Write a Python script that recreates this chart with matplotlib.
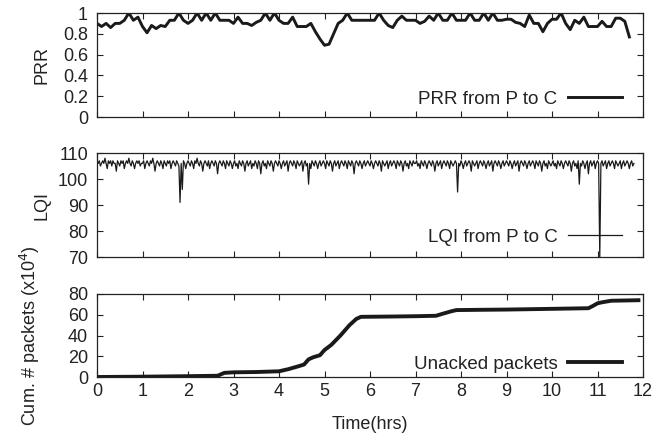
import matplotlib
matplotlib.use("Agg")
import matplotlib.pyplot as plt
import numpy as np

plt.rcParams['font.family'] = ['Liberation Sans', 'DejaVu Sans']

# ---------------- data ----------------
prr_step = 0.1
prr_values = [
    0.90, 0.87, 0.90, 0.86, 0.90, 0.90, 0.93, 1.00, 0.93, 0.96,
    0.87, 0.81, 0.88, 0.85, 0.88, 0.87, 0.93, 0.93, 1.00, 0.93,
    0.90, 0.93, 1.00, 0.93, 1.00, 0.93, 1.00, 0.93, 0.93, 0.93,
    0.90, 0.96, 0.90, 0.90, 0.88, 0.91, 0.93, 1.00, 0.93, 1.00,
    0.93, 0.90, 0.90, 0.96, 0.87, 0.87, 0.87, 0.90, 0.82, 0.75,
    0.69, 0.70, 0.80, 0.90, 0.93, 1.00, 0.93, 0.93, 0.93, 0.93,
    0.93, 0.93, 1.00, 0.93, 0.88, 0.86, 0.93, 0.97, 0.93, 0.93,
    0.93, 0.90, 0.92, 0.97, 0.93, 1.00, 0.93, 0.93, 1.00, 0.93,
    0.93, 0.93, 1.00, 0.93, 0.93, 1.00, 0.93, 1.00, 0.93, 0.93,
    0.94, 0.94, 0.91, 0.90, 0.87, 0.98, 0.90, 0.90, 0.82, 0.90,
    0.94, 0.94, 1.00, 0.90, 0.84, 0.93, 0.90, 0.96, 0.87, 0.87,
    0.87, 0.92, 0.87, 0.87, 0.95, 0.95, 0.92, 0.77,
]

lqi_step = 0.025
lqi_values = [
    107, 106, 107, 105, 106, 107, 106, 108, 106, 104, 107, 106, 107, 105, 107, 106, 106, 103, 107, 106,
    105, 107, 106, 107, 104, 106, 107, 106, 108, 106, 105, 107, 106, 104, 106, 107, 106, 107, 105, 106,
    106, 107, 104, 106, 107, 106, 105, 107, 106, 108, 106, 103, 106, 107, 106, 105, 107, 106, 104, 107,
    106, 105, 107, 106, 107, 104, 106, 107, 106, 105, 107, 106, 105, 91, 106, 96, 107, 106, 104, 106,
    107, 106, 105, 107, 106, 104, 107, 106, 108, 106, 105, 107, 106, 103, 106, 107, 106, 105, 107, 104,
    106, 107, 106, 105, 107, 106, 102, 106, 107, 106, 105, 107, 106, 104, 107, 106, 105, 107, 106, 104,
    106, 107, 105, 106, 104, 107, 106, 105, 107, 106, 103, 106, 107, 105, 106, 107, 104, 106, 105, 107,
    106, 104, 107, 106, 102, 106, 107, 105, 106, 104, 107, 106, 105, 107, 106, 103, 106, 107, 106, 105,
    107, 106, 104, 106, 107, 105, 106, 107, 103, 106, 107, 106, 105, 107, 106, 104, 107, 106, 105, 106,
    107, 103, 106, 107, 105, 106, 98, 106, 104, 107, 106, 105, 107, 106, 104, 106, 107, 105, 106, 107,
    106, 104, 107, 106, 105, 107, 106, 103, 106, 107, 105, 106, 107, 104, 106, 107, 106, 105, 107, 106,
    104, 107, 106, 105, 107, 106, 102, 106, 107, 106, 105, 107, 106, 104, 106, 107, 105, 106, 107, 106,
    105, 107, 106, 104, 106, 107, 106, 105, 107, 106, 103, 107, 106, 105, 106, 107, 104, 106, 107, 105,
    106, 107, 106, 104, 107, 106, 105, 107, 106, 103, 106, 107, 105, 106, 104, 107, 106, 105, 107, 106,
    106, 107, 105, 106, 104, 107, 106, 105, 107, 106, 104, 106, 107, 106, 105, 107, 106, 103, 106, 107,
    105, 106, 107, 104, 106, 107, 106, 105, 107, 106, 104, 107, 106, 105, 106, 107, 106, 95, 106, 105,
    107, 106, 104, 106, 107, 105, 106, 107, 106, 103, 107, 106, 105, 106, 107, 104, 106, 107, 106, 105,
    107, 106, 104, 106, 107, 105, 106, 107, 103, 106, 107, 106, 105, 107, 106, 104, 106, 107, 105, 106,
    107, 106, 105, 107, 106, 104, 106, 107, 105, 106, 107, 103, 106, 107, 106, 105, 107, 106, 104, 106,
    107, 105, 106, 107, 106, 104, 107, 106, 105, 107, 106, 103, 106, 107, 105, 106, 104, 107, 106, 105,
    106, 107, 105, 106, 104, 107, 106, 105, 107, 106, 104, 106, 107, 106, 105, 107, 106, 103, 106, 107,
    105, 106, 104, 107, 98, 106, 105, 107, 106, 104, 106, 107, 102, 106, 107, 105, 106, 107, 104, 106,
    107, 106, 70, 106, 107, 105, 106, 107, 104, 106, 107, 105, 106, 107, 106, 104, 107, 106, 105, 106,
    107, 104, 106, 107, 105, 106, 107, 106, 104, 106, 107, 105, 106,
]

cum_time = [0, 1, 2, 2.65, 2.8, 3.0, 3.5, 4.0, 4.2, 4.4, 4.55, 4.65, 4.75, 4.9, 5.0,
            5.15, 5.35, 5.55, 5.7, 5.8, 6.5, 7.0, 7.45, 7.6, 7.8, 7.9, 8.5, 9.0,
            10.0, 10.8, 10.9, 11.0, 11.1, 11.3, 11.9]
cum_values = [0, 0.3, 0.8, 1.2, 4.0, 4.5, 4.8, 5.5, 7.5, 10, 12, 17, 19, 21, 26,
              31, 40, 50, 56, 58, 58.3, 58.6, 59, 61, 63.5, 64.5, 64.8, 65,
              65.7, 66.3, 68.5, 71, 72, 73.5, 74]

x_ticks = list(range(0, 13))
prr_ticks = [0, 0.2, 0.4, 0.6, 0.8, 1]
prr_ticklabels = ['0', '0.2', '0.4', '0.6', '0.8', '1']
lqi_ticks = [70, 80, 90, 100, 110]
cum_ticks = [0, 20, 40, 60, 80]

prr_time = np.arange(len(prr_values)) * prr_step
lqi_time = np.arange(len(lqi_values)) * lqi_step

# ---------------- figure ----------------
W, H = 655, 437
fig = plt.figure(figsize=(W / 100, H / 100), dpi=100)

def box(top, bottom, left=97, right=643):
    return [left / W, 1 - bottom / H, (right - left) / W, (bottom - top) / H]

ax1 = fig.add_axes(box(13, 117))
ax2 = fig.add_axes(box(153, 257))
ax3 = fig.add_axes(box(294, 377))

FS = 13
TXT = '#222222'
for ax in (ax1, ax2, ax3):
    ax.set_xlim(0, 12)
    ax.set_xticks(x_ticks)
    ax.tick_params(direction='in', top=True, right=True, length=4, width=0.8,
                   labelsize=FS, colors=TXT)
    ax.tick_params(axis='y', pad=6.5)
    ax.tick_params(axis='x', pad=4)
    for s in ax.spines.values():
        s.set_linewidth(0.9)
        s.set_color(TXT)

ax1.plot(prr_time, prr_values, color='#1a1a1a', lw=2.1, label='PRR from P to C')
ax1.set_ylim(0, 1)
ax1.set_yticks(prr_ticks)
ax1.set_yticklabels(prr_ticklabels)
ax1.set_xticklabels([])
ax1.set_ylabel('PRR', fontsize=FS, color=TXT)

ax2.plot(lqi_time, lqi_values, color='#1a1a1a', lw=0.9, label='LQI from P to C')
ax2.set_ylim(70, 110)
ax2.set_yticks(lqi_ticks)
ax2.set_xticklabels([])
ax2.set_ylabel('LQI', fontsize=FS, color=TXT)

ax3.plot(cum_time, cum_values, color='#1a1a1a', lw=2.8, label='Unacked packets')
ax3.set_ylim(0, 80)
ax3.set_yticks(cum_ticks)
ax3.set_xlabel('Time(hrs)', fontsize=FS, color=TXT)
ax3.set_ylabel('Cum. # packets (x10$^{4}$)', fontsize=FS, color=TXT)

legend_y = {ax1: 9 / 104, ax2: 11 / 104, ax3: 4 / 83}
for ax in (ax1, ax2, ax3):
    ax.legend(loc='lower right', bbox_to_anchor=(525 / 546, legend_y[ax]),
              frameon=False, markerfirst=False, fontsize=13.5,
              handlelength=2.9, borderaxespad=0, borderpad=0,
              handletextpad=0.55, labelcolor=TXT)

ax1.yaxis.set_label_coords(-0.085, 0.5)
ax2.yaxis.set_label_coords(-0.085, 0.5)
ax3.yaxis.set_label_coords(-0.10, 0.5)
ax3.xaxis.set_label_coords(0.5, -0.47)

fig.savefig('out.png', dpi=100)
